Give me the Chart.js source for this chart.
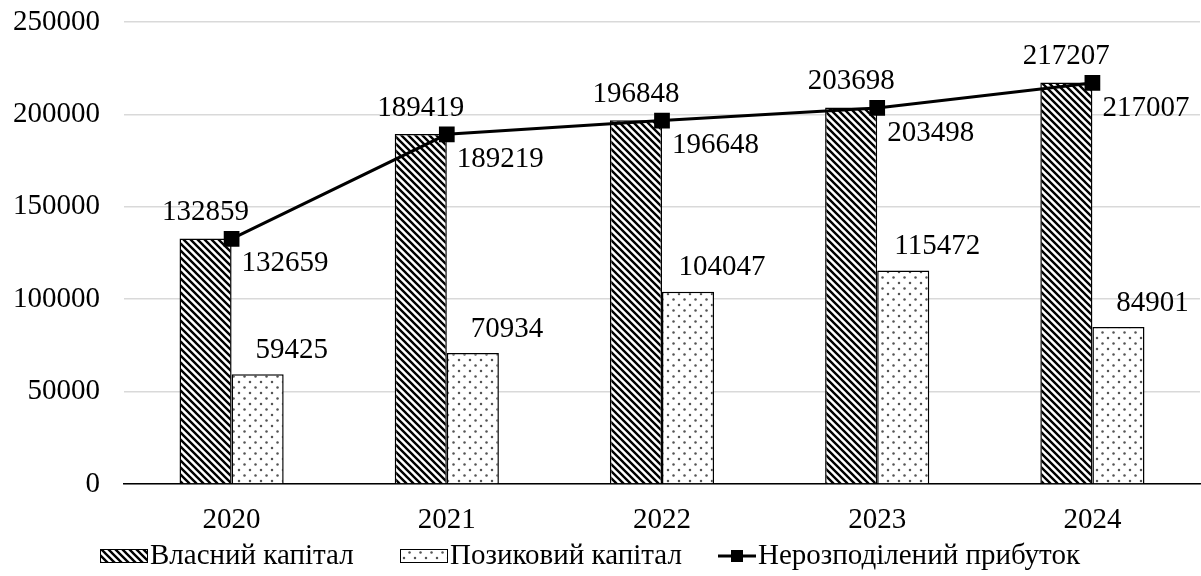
<!DOCTYPE html>
<html>
<head>
<meta charset="utf-8">
<script src="https://cdn.jsdelivr.net/npm/chart.js@4.4.1/dist/chart.umd.min.js"></script>
<style>
  html, body { margin: 0; padding: 0; background: #fff; }
  #wrap { width: 1201px; height: 576px; }
</style>
</head>
<body>
<div id="wrap"><canvas id="chart" width="1201" height="576"></canvas></div>
<script>
// chart data
const years = ['2020', '2021', '2022', '2023', '2024'];
const ownCapital = [132859, 189419, 196848, 203698, 217207];
const borrowedCapital = [59425, 70934, 104047, 115472, 84901];
const retainedEarnings = [132659, 189219, 196648, 203498, 217007];
const yMax = 250000;
const yStep = 50000;

const FONT = "'Liberation Serif', 'Times New Roman', serif";
const FS = 29;

// fill patterns for the bars
function makeStripes() {
    const c = document.createElement('canvas');
    c.width = 7; c.height = 7;
    const g = c.getContext('2d');
    g.fillStyle = '#fff';
    g.fillRect(0, 0, 7, 7);
    g.strokeStyle = '#000';
    g.lineWidth = 2.4;
    g.beginPath();
    g.moveTo(-1, -1); g.lineTo(8, 8);
    g.moveTo(-1, 6); g.lineTo(1, 8);
    g.moveTo(6, -1); g.lineTo(8, 1);
    g.stroke();
    return g.createPattern(c, 'repeat');
}

function makeDots() {
    const c = document.createElement('canvas');
    c.width = 11; c.height = 11;
    const g = c.getContext('2d');
    g.fillStyle = '#fff';
    g.fillRect(0, 0, 11, 11);
    g.fillStyle = '#555';
    [[2.5, 2.5], [8, 8]].forEach(([x, y]) => {
        g.beginPath();
        g.arc(x, y, 1.25, 0, Math.PI * 2);
        g.fill();
    });
    return g.createPattern(c, 'repeat');
}

const stripes = makeStripes();
const dots = makeDots();

// value labels next to bars and points
const valueLabels = {
    id: 'valueLabels',
    afterDatasetsDraw(chart) {
        const ctx = chart.ctx;
        ctx.save();
        ctx.font = FS + 'px ' + FONT;
        ctx.fillStyle = '#000';
        ctx.textBaseline = 'middle';
        chart.data.datasets.forEach((ds, i) => {
            const meta = chart.getDatasetMeta(i);
            meta.data.forEach((el, j) => {
                let x, y;
                if (i === 0) {
                    ctx.textAlign = 'center';
                    x = el.x; y = el.y - 26;
                } else if (i === 1) {
                    ctx.textAlign = 'center';
                    x = el.x + el.width / 2 + 8; y = el.y - 24;
                } else {
                    ctx.textAlign = 'left';
                    x = el.x + 10; y = el.y + 25;
                }
                ctx.fillText(String(ds.data[j]), x, y);
            });
        });
        ctx.restore();
    }
};

// legend at the bottom, drawn by hand so the pattern boxes and line marker match
const bottomLegend = {
    id: 'bottomLegend',
    afterDraw(chart) {
        const ctx = chart.ctx;
        const y = 556;
        const starts = [100, 400, 718];
        ctx.save();
        ctx.font = FS + 'px ' + FONT;
        ctx.textBaseline = 'middle';
        ctx.textAlign = 'left';
        chart.data.datasets.forEach((ds, i) => {
            const x = starts[i];
            let tx;
            if (ds.type === 'line') {
                ctx.strokeStyle = '#000';
                ctx.lineWidth = 3;
                ctx.beginPath();
                ctx.moveTo(x, y); ctx.lineTo(x + 38, y);
                ctx.stroke();
                ctx.fillStyle = '#000';
                ctx.fillRect(x + 19 - 6, y - 6, 12, 12);
                tx = x + 40;
            } else {
                ctx.fillStyle = ds.backgroundColor;
                ctx.fillRect(x, y - 7, 48, 14);
                ctx.strokeStyle = '#000';
                ctx.lineWidth = 1;
                ctx.strokeRect(x + 0.5, y - 6.5, 47, 13);
                tx = x + 50;
            }
            ctx.fillStyle = '#000';
            ctx.fillText(ds.label, tx, y);
        });
        ctx.restore();
    }
};

new Chart(document.getElementById('chart'), {
    type: 'bar',
    data: {
        labels: years,
        datasets: [
            {
                label: 'Власний капітал',
                data: ownCapital,
                backgroundColor: stripes,
                borderColor: '#000',
                borderWidth: 1.5,
                order: 1
            },
            {
                label: 'Позиковий капітал',
                data: borrowedCapital,
                backgroundColor: dots,
                borderColor: '#000',
                borderWidth: 1.5,
                order: 1
            },
            {
                type: 'line',
                label: 'Нерозподілений прибуток',
                data: retainedEarnings,
                borderColor: '#000',
                borderWidth: 3,
                pointStyle: 'rect',
                pointRadius: 9,
                pointBackgroundColor: '#000',
                pointBorderColor: '#000',
                tension: 0,
                order: 0
            }
        ]
    },
    options: {
        responsive: false,
        animation: false,
        layout: { autoPadding: false, padding: { top: 22, right: 1, bottom: 42, left: 0 } },
        datasets: { bar: { categoryPercentage: 0.484, barPercentage: 1 } },
        plugins: {
            legend: { display: false },
            tooltip: { enabled: false }
        },
        scales: {
            x: {
                grid: { display: false, drawTicks: false },
                border: { color: '#000', width: 1.5 },
                ticks: { color: '#000', font: { family: FONT, size: FS }, padding: 19 },
                afterFit(s) { s.height = 50; s.paddingLeft = 0; s.paddingRight = 0; }
            },
            y: {
                min: 0,
                max: yMax,
                ticks: {
                    stepSize: yStep,
                    color: '#000',
                    font: { family: FONT, size: FS },
                    padding: 24,
                    callback: v => String(v)
                },
                grid: { color: '#d9d9d9', lineWidth: 1.5, drawTicks: false },
                border: { display: false },
                afterFit(s) { s.width = 124; s.paddingTop = 0; s.paddingBottom = 0; }
            }
        }
    },
    plugins: [valueLabels, bottomLegend]
});
</script>
</body>
</html>
